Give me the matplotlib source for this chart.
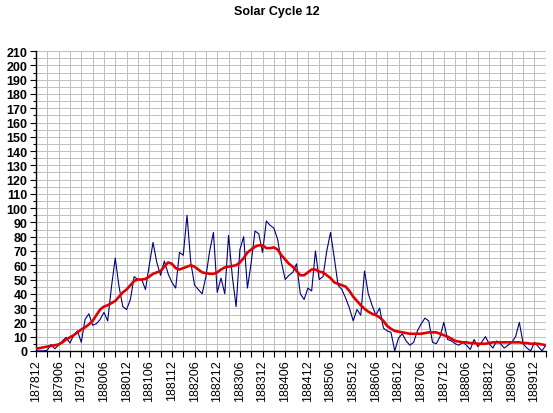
import numpy as np
import matplotlib
matplotlib.use("Agg")
from matplotlib import pyplot as plt
from matplotlib.ticker import MultipleLocator

# monthly sunspot numbers, 1878/12 .. 1890/03
monthly = [0, 0, 0, 0.5, 4.5, 1.5, 4, 7, 9.5, 5.5, 11, 14,
           6, 22, 26, 18, 19, 22, 27, 21, 45, 65, 45, 31,
           29, 36, 52, 50, 50, 43, 60, 76, 62, 53, 63, 54,
           48, 44, 69, 67, 95, 62, 46, 43, 40, 52, 70, 83,
           41, 51, 40, 81, 52, 31, 71, 80, 44, 62, 84, 82,
           69, 91, 88, 86, 78, 62, 50, 53, 55, 61, 40, 36,
           44, 42, 70, 50, 52, 70, 83, 65, 46, 43, 37, 30,
           21, 29, 25, 56, 40, 32, 25, 30, 16, 14, 13, 0,
           9, 12, 7, 4, 6, 14, 19, 23, 21, 6, 5, 10,
           20, 8, 7, 5, 4, 6, 4, 1, 8, 3, 6, 10,
           5, 2, 7, 5, 2, 4, 6, 10, 20, 5, 2, 0,
           6, 3, 0, 4]

# 13-month smoothed
smoothed = [1.5, 2, 2.5, 3, 3.5, 4, 4.5, 6, 8, 9.5, 11, 13,
            15, 16.5, 18.5, 21, 25, 29, 31, 32, 33.5, 35, 38, 41,
            43, 46, 49, 50, 50, 50.5, 52, 54, 55, 56, 59, 62,
            61, 58, 57, 58, 59, 60, 59, 57, 55, 54.5, 54, 54,
            55, 57, 58.5, 59, 59.5, 60, 62, 65, 69, 71, 73, 74,
            74, 72, 72, 72.5, 71, 67, 64, 61, 59, 56, 53, 53,
            55, 57, 57, 55.5, 55, 53, 51, 48, 47, 46, 45, 42,
            38, 35, 32, 29.5, 27.5, 26, 25, 23.5, 21, 17.5, 15.5, 14,
            13.5, 13, 12.5, 12, 12, 12, 12, 12.5, 13, 13, 13, 12,
            11, 10, 8.5, 7, 6.5, 6, 6, 5.5, 5.5, 5, 5, 5,
            5.5, 6, 6, 6, 6, 6, 6, 6, 6, 5.5, 5.5, 5,
            5, 5, 4.5, 4]

tick_labels = ['187812', '187906', '187912', '188006', '188012', '188106',
               '188112', '188206', '188212', '188306', '188312', '188406',
               '188412', '188506', '188512', '188606', '188612', '188706',
               '188712', '188806', '188812', '188906', '188912']

months = np.arange(len(monthly))

fig = plt.figure(figsize=(5.53, 4.14), dpi=100)
ax = fig.add_axes([0.065, 0.15, 0.922, 0.724])

ax.plot(months, monthly, color='#000080', linewidth=0.8, zorder=3)
ax.plot(months, smoothed, color='#e00000', linewidth=1.9, zorder=4)

ax.set_xlim(0, len(monthly) - 1)
ax.set_ylim(0, 210)

# grid: every 3 months, every 5 units
ax.xaxis.set_minor_locator(MultipleLocator(3))
ax.yaxis.set_major_locator(MultipleLocator(10))
ax.yaxis.set_minor_locator(MultipleLocator(5))
ax.set_xticks(np.arange(0, len(tick_labels) * 6, 6))
ax.set_xticklabels(tick_labels, rotation=90, fontsize=9, family='Liberation Sans')
ax.grid(True, which='both', color='#c0c0c0', linewidth=0.7, zorder=0)

for lbl in ax.get_yticklabels():
    lbl.set_fontweight('bold')
    lbl.set_fontfamily('Liberation Sans')
    lbl.set_fontsize(9)

ax.tick_params(axis='x', which='both', length=4, width=0.8, direction='out', pad=2)
ax.tick_params(axis='y', which='major', length=4, width=0.8, pad=2)
ax.tick_params(axis='y', which='minor', length=2, width=0.8)

ax.spines['top'].set_visible(False)
ax.spines['right'].set_visible(False)
ax.spines['left'].set_linewidth(1.0)
ax.spines['bottom'].set_linewidth(1.0)

fig.text(0.5, 0.985, 'Solar Cycle 12', ha='center', va='top', fontsize=9,
         fontweight='bold', family='Liberation Sans')

fig.savefig('out.png', dpi=100)
plt.close(fig)
